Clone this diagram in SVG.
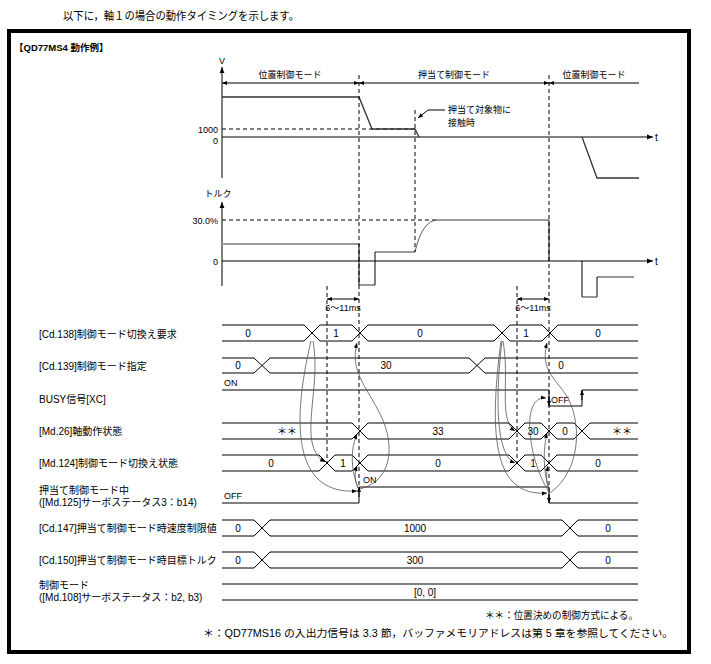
<svg xmlns="http://www.w3.org/2000/svg" width="711" height="664" viewBox="0 0 711 664">
<style>
text{font-family:'Liberation Sans','Noto Sans CJK JP',sans-serif;font-size:10px;fill:#000}
.v{text-anchor:middle}
.e{text-anchor:end}
.s{font-size:9px}
.ln{fill:none;stroke:#000;stroke-width:1}
.dash{fill:none;stroke:#000;stroke-width:1;stroke-dasharray:4,3}
.gr{fill:none;stroke:#9a9a9a;stroke-width:2}
.cv{fill:none;stroke:#555;stroke-width:0.8}
</style>
<defs>
<marker id="ah" viewBox="0 0 10 10" refX="10" refY="5" markerUnits="userSpaceOnUse" markerWidth="7" markerHeight="6" orient="auto-start-reverse"><path d="M0,1 L10,5 L0,9z" fill="#000"/></marker>
<marker id="as" viewBox="0 0 10 10" refX="10" refY="5" markerUnits="userSpaceOnUse" markerWidth="6" markerHeight="5" orient="auto-start-reverse"><path d="M0,1 L10,5 L0,9z" fill="#000"/></marker>
</defs>
<rect width="711" height="664" fill="#fff"/>
<text x="63" y="20" textLength="236" lengthAdjust="spacingAndGlyphs" style="font-size:11.5px">以下に，軸１の場合の動作タイミングを示します。</text>
<rect x="9" y="31" width="680" height="621" fill="none" stroke="#000" stroke-width="4"/>
<text x="14" y="51" style="font-size:9.5px;font-weight:bold">【QD77MS4 動作例】</text>

<g id="speed-chart">
<path class="ln" d="M222,178 V67" marker-end="url(#ah)"/>
<text class="v s" x="222" y="64">V</text>
<path class="ln" d="M222,137 H653" marker-end="url(#ah)"/>
<text x="655" y="141">t</text>
<text class="e s" x="218" y="133">1000</text>
<text class="e s" x="218" y="144">0</text>
<path class="dash" d="M222,129 H415"/>
<path fill="none" stroke="#333" stroke-width="1.3" d="M222,97 H359 L372,129 H415 L419,137"/>
<path fill="none" stroke="#333" stroke-width="1.3" d="M582,137 L597,178 H639"/>
<path class="ln" d="M222,83 H359" marker-start="url(#as)" marker-end="url(#as)"/>
<path class="ln" d="M359,83 H549" marker-start="url(#as)" marker-end="url(#as)"/>
<path class="ln" d="M549,83 H639" marker-start="url(#as)"/>
<text class="v s" x="290" y="78">位置制御モード</text>
<text class="v s" x="454" y="78">押当て制御モード</text>
<text class="v s" x="594" y="78">位置制御モード</text>
<path class="ln" d="M445,110 H428 L418,118" marker-end="url(#as)"/>
<text class="s" x="448" y="113">押当て対象物に</text>
<text class="s" x="448" y="126">接触時</text>
</g>

<g id="torque-chart">
<path class="ln" d="M222,286 V202" marker-end="url(#ah)"/>
<text class="v s" x="218" y="197">トルク</text>
<path class="ln" d="M222,261 H653" marker-end="url(#ah)"/>
<text x="655" y="265">t</text>
<text class="e s" x="218" y="224">30.0%</text>
<text class="e s" x="218" y="265">0</text>
<path class="dash" d="M222,220 H436"/>
<path class="gr" d="M222,244 H359 M359,285 H375 M375,252 H415 M436,220 H549 M582,297 H597 M597,277 H634"/>
<path class="ln" d="M359,244 V285 M375,285 V252 M549,220 V261 M582,261 V297 M597,297 V277"/>
<path fill="none" stroke="#555" stroke-width="1" d="M415,252 C419,235 425,222 436,220"/>
</g>

<g id="timing-marks">
<path class="dash" d="M327,286 V463 M359,75 V492 M415,110 V252 M517,286 V463 M549,75 V500"/>
<path class="ln" d="M327,299 H359" marker-start="url(#as)" marker-end="url(#as)"/>
<path class="ln" d="M517,299 H549" marker-start="url(#as)" marker-end="url(#as)"/>
<text class="v s" x="343" y="311">6～11ms</text>
<text class="v s" x="533" y="311">6～11ms</text>
</g>

<g id="row-cd138">
<text x="39" y="338">[Cd.138]制御モード切換え要求</text>
<path class="ln" d="M222,325 H304 L320,341 H352 L368,325 H494 L510,341 H542 L558,325 H638"/>
<path class="ln" d="M222,341 H304 L320,325 H352 L368,341 H494 L510,325 H542 L558,341 H638"/>
<text class="v" x="248" y="337">0</text><text class="v" x="336" y="337">1</text><text class="v" x="420" y="337">0</text><text class="v" x="526" y="337">1</text><text class="v" x="598" y="337">0</text>
</g>

<g id="row-cd139">
<text x="39" y="370">[Cd.139]制御モード指定</text>
<path class="ln" d="M222,358 H254 L270,373 H469 L485,358 H638"/>
<path class="ln" d="M222,373 H254 L270,358 H469 L485,373 H638"/>
<text class="v" x="238" y="369">0</text><text class="v" x="386" y="369">30</text><text class="v" x="561" y="369">0</text>
</g>

<g id="row-busy">
<text x="39" y="403">BUSY信号[XC]</text>
<text class="s" x="224" y="386">ON</text>
<path class="ln" d="M222,390 H549 V406 H582 V390 H638"/>
<path class="ln" d="M549,396 V406" marker-end="url(#as)"/>
<path class="ln" d="M582,400 V390" marker-end="url(#as)"/>
<text class="s" x="551" y="403">OFF</text>
</g>

<g id="row-md26">
<text x="39" y="435">[Md.26]軸動作状態</text>
<path class="ln" d="M222,423 H352 L368,439 H509 L525,423 H541 L557,439 H574 L590,423 H638"/>
<path class="ln" d="M222,439 H352 L368,423 H509 L525,439 H541 L557,423 H574 L590,439 H638"/>
<text class="v" x="287" y="435">＊＊</text><text class="v" x="438" y="435">33</text><text class="v" x="533" y="435">30</text><text class="v" x="565" y="435">0</text><text class="v" x="622" y="435">＊＊</text>
</g>

<g id="row-md124">
<text x="39" y="467">[Md.124]制御モード切換え状態</text>
<path class="ln" d="M222,455 H319 L335,471 H352 L368,455 H509 L525,471 H541 L557,455 H638"/>
<path class="ln" d="M222,471 H319 L335,455 H352 L368,471 H509 L525,455 H541 L557,471 H638"/>
<text class="v" x="271" y="467">0</text><text class="v" x="343" y="467">1</text><text class="v" x="438" y="467">0</text><text class="v" x="533" y="467">1</text><text class="v" x="598" y="467">0</text>
</g>

<g id="row-md125">
<text x="39" y="494">押当て制御モード中</text>
<text x="39" y="506">([Md.125]サーボステータス3：b14)</text>
<text class="s" x="224" y="499">OFF</text>
<text class="s" x="363" y="483">ON</text>
<path class="ln" d="M222,503 H359 V487 H549 V503 H638"/>
<path class="ln" d="M359,497 V487" marker-end="url(#as)"/>
<path class="ln" d="M549,494 V503" marker-end="url(#as)"/>
</g>

<g id="row-cd147">
<text x="39" y="532">[Cd.147]押当て制御モード時速度制限値</text>
<path class="ln" d="M222,520 H254 L270,536 H562 L578,520 H638"/>
<path class="ln" d="M222,536 H254 L270,520 H562 L578,536 H638"/>
<text class="v" x="238" y="532">0</text><text class="v" x="415" y="532">1000</text><text class="v" x="608" y="532">0</text>
</g>

<g id="row-cd150">
<text x="39" y="564">[Cd.150]押当て制御モード時目標トルク</text>
<path class="ln" d="M222,552 H254 L270,568 H562 L578,552 H638"/>
<path class="ln" d="M222,568 H254 L270,552 H562 L578,568 H638"/>
<text class="v" x="238" y="564">0</text><text class="v" x="415" y="564">300</text><text class="v" x="608" y="564">0</text>
</g>

<g id="row-md108">
<text x="39" y="589">制御モード</text>
<text x="39" y="601">([Md.108]サーボステータス：b2, b3)</text>
<path class="ln" d="M222,584 H638 M222,600 H638"/>
<text class="v" x="425" y="596">[0, 0]</text>
</g>

<g id="connectors">
<path class="cv" d="M313,341 C322,390 296,445 325,462" marker-end="url(#as)"/>
<path class="cv" d="M311,341 C290,430 296,495 357,491" marker-end="url(#as)"/>
<path class="cv" d="M360,489 C395,480 395,440 378,410 C365,385 350,370 357,343" marker-end="url(#as)"/>
<path class="cv" d="M358,488 C351,470 350,450 357,434" marker-end="url(#as)"/>
<path class="cv" d="M358,488 C355,480 354,475 357,466" marker-end="url(#as)"/>
<path class="cv" d="M503,341 C510,380 498,420 515,431" marker-end="url(#as)"/>
<path class="cv" d="M502,341 C495,400 496,455 515,463" marker-end="url(#as)"/>
<path class="cv" d="M501,341 C488,440 495,497 547,493" marker-end="url(#as)"/>
<path class="cv" d="M550,493 C582,470 582,420 566,395 C555,378 540,370 547,343" marker-end="url(#as)"/>
<path class="cv" d="M549,492 C528,460 520,395 546,398" marker-end="url(#as)"/>
<path class="cv" d="M549,490 C543,470 543,450 547,433" marker-end="url(#as)"/>
<path class="cv" d="M549,490 C546,480 546,475 548,466" marker-end="url(#as)"/>
</g>

<text x="485" y="619" textLength="153" lengthAdjust="spacingAndGlyphs">＊＊：位置決めの制御方式による。</text>
<text x="203" y="637" textLength="470" lengthAdjust="spacingAndGlyphs" style="font-size:10.5px">＊：QD77MS16 の入出力信号は 3.3 節，バッファメモリアドレスは第 5 章を参照してください。</text>
</svg>
